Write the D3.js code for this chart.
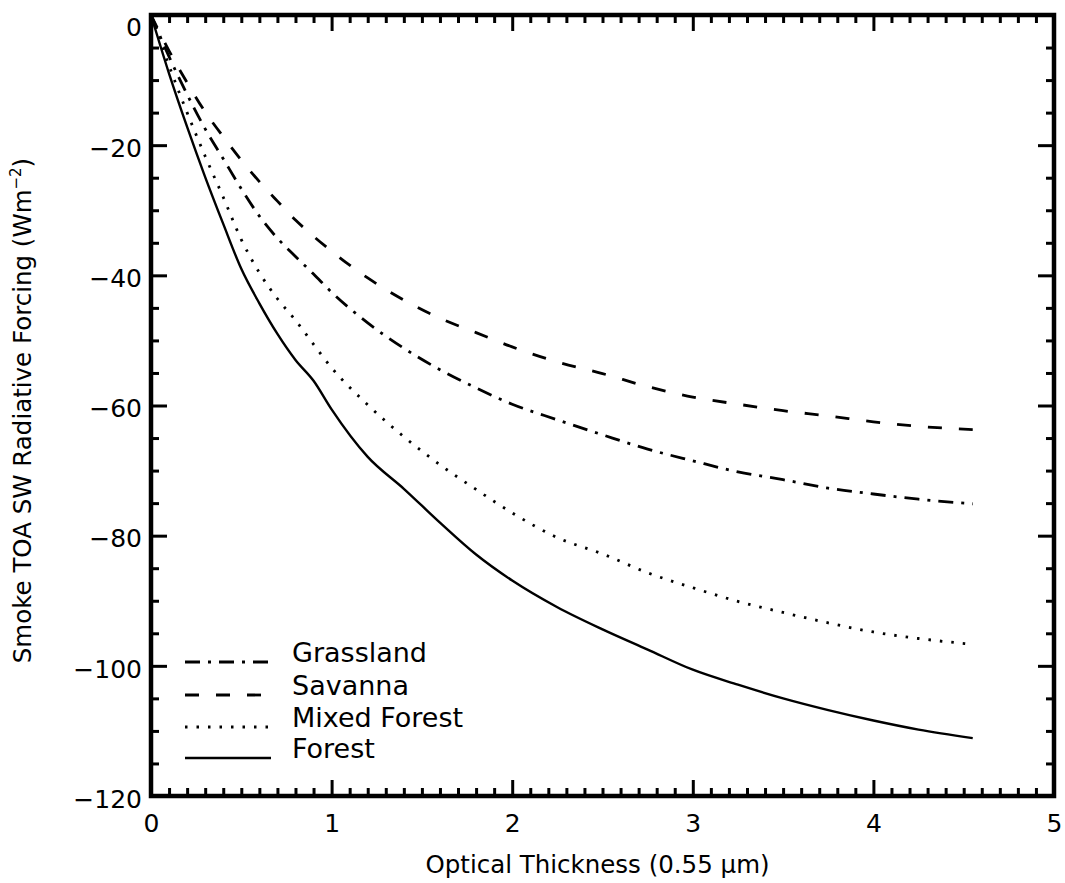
<!DOCTYPE html>
<html>
<head>
<meta charset="utf-8">
<script src="https://cdn.jsdelivr.net/npm/d3@7"></script>
<style>
  html, body { margin: 0; padding: 0; background: #fff; }
  svg { display: block; }
  text { font-family: "DejaVu Sans", sans-serif; fill: #000; }
</style>
</head>
<body>
<svg id="chart" width="1065" height="883"></svg>
<script>
// ---- data ----
const opticalThickness = [0, 0.1, 0.2, 0.3, 0.4, 0.5, 0.6, 0.7, 0.8, 0.9, 1.0, 1.2, 1.4, 1.6, 1.8, 2.0, 2.25, 2.5, 2.75, 3.0, 3.25, 3.5, 3.75, 4.0, 4.25, 4.55];
const grassland   = [0, -6.4, -12.2, -17.5, -22.1, -26.7, -30.9, -34.3, -37.1, -39.8, -42.6, -47.3, -51.2, -54.5, -57.3, -59.8, -62.2, -64.5, -66.7, -68.5, -70.2, -71.4, -72.7, -73.6, -74.4, -75.1];
const savanna     = [0, -5.5, -10.4, -14.9, -18.7, -22.3, -25.6, -28.6, -31.5, -34.0, -36.3, -40.4, -43.8, -46.6, -48.8, -51.0, -53.3, -55.1, -57.1, -58.7, -59.8, -60.8, -61.6, -62.5, -63.2, -63.7];
const mixedForest = [0, -7.8, -15.0, -21.7, -28.0, -34.5, -39.6, -43.6, -46.9, -50.6, -54.2, -59.9, -64.8, -69.1, -72.9, -76.5, -80.3, -82.8, -85.7, -88.0, -90.1, -91.8, -93.4, -94.8, -95.8, -96.7];
const forest      = [0, -9.0, -17.2, -24.9, -32.1, -39.0, -44.3, -49.0, -53.0, -56.2, -60.6, -67.9, -72.8, -78.0, -82.9, -86.9, -91.0, -94.4, -97.5, -100.6, -102.9, -105.0, -106.8, -108.4, -109.8, -111.1];
const seriesNames = ["Grassland", "Savanna", "Mixed Forest", "Forest"];
const xTicks = [0, 1, 2, 3, 4, 5];
const yTicks = [0, -20, -40, -60, -80, -100, -120];

// ---- layout ----
const L = 151, R = 1054, T = 15, B = 796;
const svg = d3.select("#chart");
const x = d3.scaleLinear().domain([0, 5]).range([L, R]);
const y = d3.scaleLinear().domain([-120, 0]).range([B, T]);

const dashes = {
  "Grassland": "15,8,3,8",
  "Savanna": "14,17",
  "Mixed Forest": "2.5,9",
  "Forest": null
};
const values = { "Grassland": grassland, "Savanna": savanna, "Mixed Forest": mixedForest, "Forest": forest };

// ---- curves ----
const line = d3.line().x(d => x(d[0])).y(d => y(d[1])).curve(d3.curveMonotoneX);
seriesNames.forEach(name => {
  const pts = opticalThickness.map((t, i) => [t, values[name][i]]);
  svg.append("path")
    .datum(pts)
    .attr("d", line)
    .attr("fill", "none")
    .attr("stroke", "#000")
    .attr("stroke-width", name === "Forest" ? 2.4 : 2.8)
    .attr("stroke-dasharray", dashes[name]);
});

// ---- axes ----
const minorX = d3.range(0, 51).map(i => i / 10).filter(v => !xTicks.includes(v));
const minorY = d3.range(0, 25).map(i => -i * 5).filter(v => !yTicks.includes(v));

function styleAxis(g) {
  g.select(".domain").remove();
  g.selectAll(".tick line").attr("stroke", "#000").attr("stroke-width", 3);
}

// bottom
svg.append("g").attr("transform", `translate(0,${B})`)
  .call(d3.axisBottom(x).tickValues(xTicks).tickSizeInner(-16).tickSizeOuter(0).tickPadding(38).tickFormat(d3.format("d")))
  .call(styleAxis)
  .call(g => g.selectAll("text").attr("font-size", 25).attr("dy", "-0.1em"));
svg.append("g").attr("transform", `translate(0,${B})`)
  .call(d3.axisBottom(x).tickValues(minorX).tickSizeInner(-8).tickSizeOuter(0).tickFormat(""))
  .call(styleAxis);
// top
svg.append("g").attr("transform", `translate(0,${T})`)
  .call(d3.axisTop(x).tickValues(xTicks).tickSizeInner(-16).tickSizeOuter(0).tickFormat(""))
  .call(styleAxis);
svg.append("g").attr("transform", `translate(0,${T})`)
  .call(d3.axisTop(x).tickValues(minorX).tickSizeInner(-8).tickSizeOuter(0).tickFormat(""))
  .call(styleAxis);
// left
svg.append("g").attr("transform", `translate(${L},0)`)
  .call(d3.axisLeft(y).tickValues(yTicks).tickSizeInner(-16).tickSizeOuter(0).tickPadding(9)
    .tickFormat(d => d === 0 ? "0" : "\u2212" + Math.abs(d)))
  .call(styleAxis)
  .call(g => g.selectAll("text").attr("font-size", 25).attr("dy", d => d === 0 ? "0.82em" : "0.45em"));
svg.append("g").attr("transform", `translate(${L},0)`)
  .call(d3.axisLeft(y).tickValues(minorY).tickSizeInner(-8).tickSizeOuter(0).tickFormat(""))
  .call(styleAxis);
// right
svg.append("g").attr("transform", `translate(${R},0)`)
  .call(d3.axisRight(y).tickValues(yTicks).tickSizeInner(-16).tickSizeOuter(0).tickFormat(""))
  .call(styleAxis);
svg.append("g").attr("transform", `translate(${R},0)`)
  .call(d3.axisRight(y).tickValues(minorY).tickSizeInner(-8).tickSizeOuter(0).tickFormat(""))
  .call(styleAxis);

// frame
svg.append("rect")
  .attr("x", L).attr("y", T).attr("width", R - L).attr("height", B - T)
  .attr("fill", "none").attr("stroke", "#000").attr("stroke-width", 4.5);

// ---- axis titles ----
svg.append("text")
  .attr("x", (L + R) / 2 - 5).attr("y", 873)
  .attr("text-anchor", "middle").attr("font-size", 24.5)
  .text("Optical Thickness (0.55 \u03bcm)");

const yt = svg.append("text")
  .attr("transform", `translate(31,${(T + B) / 2 + 5}) rotate(-90)`)
  .attr("text-anchor", "middle").attr("font-size", 24.5);
yt.append("tspan").text("Smoke TOA SW Radiative Forcing (Wm");
yt.append("tspan").attr("font-size", 15).attr("dy", -10).text("\u22122");
yt.append("tspan").attr("dy", 10).text(")");

// ---- legend ----
const legendY = [662, 695, 727, 758];
seriesNames.forEach((name, i) => {
  svg.append("line")
    .attr("x1", 185).attr("x2", 271)
    .attr("y1", legendY[i]).attr("y2", legendY[i])
    .attr("stroke", "#000")
    .attr("stroke-width", name === "Forest" ? 2.4 : 2.8)
    .attr("stroke-dasharray", dashes[name]);
  svg.append("text")
    .attr("x", 292).attr("y", legendY[i])
    .attr("font-size", 27)
    .text(name);
});
</script>
</body>
</html>
